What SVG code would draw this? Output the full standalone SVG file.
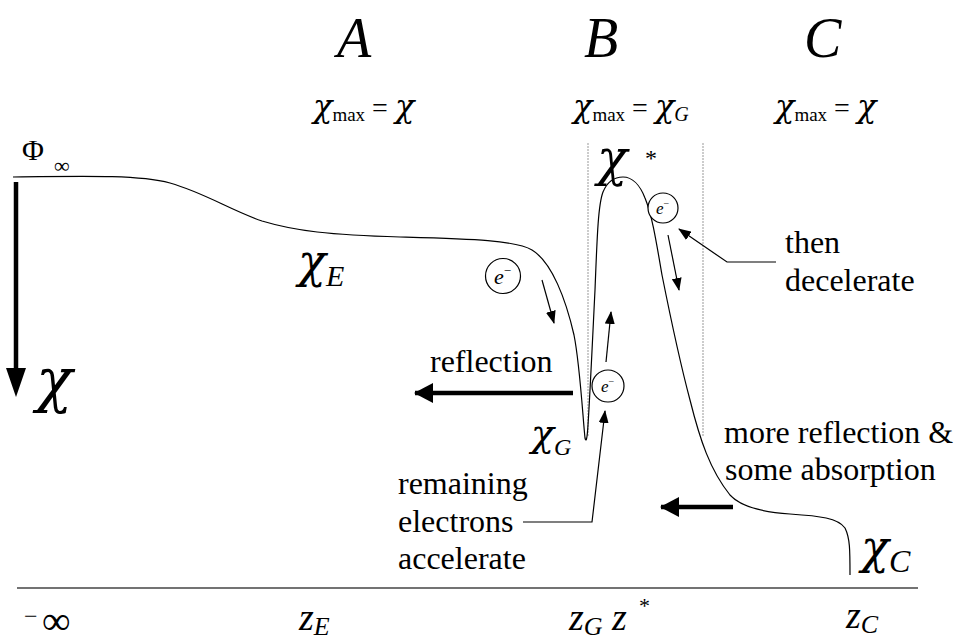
<svg xmlns="http://www.w3.org/2000/svg" width="958" height="644" viewBox="0 0 958 644">
<defs>
<marker id="ah" markerUnits="userSpaceOnUse" markerWidth="14" markerHeight="10" refX="12" refY="5" orient="auto"><path d="M0,0 L13,5 L0,10 z" fill="#000"/></marker>
<marker id="big" markerUnits="userSpaceOnUse" markerWidth="20" markerHeight="20" refX="18" refY="10" orient="auto"><path d="M0,0 L19,10 L0,20 z" fill="#000"/></marker>
</defs>
<style>
text{font-family:"Liberation Serif","Times New Roman",serif;fill:#000}
.i{font-style:italic}
.chi{font-family:"DejaVu Serif",serif;font-style:italic}
.lbl{font-size:32px}
.thin{fill:none;stroke:#000;stroke-width:1.2}
.thick{fill:none;stroke:#000;stroke-width:4.5}
.dot{fill:none;stroke:#999;stroke-width:1;stroke-dasharray:2,1}
.circ{fill:#fff;stroke:#000;stroke-width:1.2}
</style>
<rect width="958" height="644" fill="#fff"/>

<g id="guides">
<line class="dot" x1="588" y1="143" x2="588" y2="437"/>
<line class="dot" x1="703" y1="143" x2="703" y2="437"/>
<line x1="17" y1="588" x2="918" y2="588" stroke="#444" stroke-width="1.5"/>
</g>

<g id="potential">
<path class="thin" d="M13,177 C90,176 140,175 170,183 C205,193 230,210 262,221 C295,231 330,235 400,237 C470,239 515,240 532,250 C552,262 566,300 574,335 C580,365 583,420 585,438 C586,442 587,441 588,425 C590,395 593,330 595,290 C597,240 598,205 603,192 C608,180 615,177 623,177 C632,177 640,185 645,198 C652,215 656,240 662,275 C670,315 682,370 690,400 C700,440 710,470 730,495 C740,506 760,512 790,514 C820,516 838,518 845,528 C850,538 850,550 850,575"/>
</g>

<g id="connectors">
<line class="thick" x1="16" y1="182" x2="16" y2="372"/>
<path d="M6,368 L26,368 L16,397 z" fill="#000"/>
<line class="thin" x1="542" y1="280" x2="554" y2="323" marker-end="url(#ah)"/>
<line class="thin" x1="606" y1="362" x2="611" y2="312" marker-end="url(#ah)"/>
<polyline class="thin" points="523,522 592,522 605,411" marker-end="url(#ah)"/>
<line class="thin" x1="668" y1="235" x2="679" y2="290" marker-end="url(#ah)"/>
<polyline class="thin" points="776,262 727,262 679,229" marker-end="url(#ah)"/>
<line class="thick" x1="573" y1="393" x2="415" y2="393" marker-end="url(#big)"/>
<line class="thick" x1="733" y1="507" x2="661" y2="507" marker-end="url(#big)"/>
</g>

<g id="electron1">
<circle class="circ" cx="503" cy="276" r="17.5"/>
<text x="494" y="284" class="i" font-size="22">e<tspan font-size="13" dy="-9" font-style="normal">−</tspan></text>
</g>
<g id="electron2">
<circle class="circ" cx="663" cy="208" r="15"/>
<text x="656" y="214" class="i" font-size="17">e<tspan font-size="10" dy="-7" font-style="normal">−</tspan></text>
</g>
<g id="electron3">
<circle class="circ" cx="608" cy="386" r="16"/>
<text x="601" y="392" class="i" font-size="17">e<tspan font-size="10" dy="-7" font-style="normal">−</tspan></text>
</g>

<g id="labels">
<text x="22" y="160" font-size="30">Φ</text>
<text x="54" y="173" font-size="22">∞</text>
<text x="36" y="401" class="chi" font-size="60">χ</text>
<text x="337" y="57" class="i" font-size="56">A</text>
<text x="584" y="57" class="i" font-size="56">B</text>
<text x="804" y="57" class="i" font-size="56">C</text>
<text x="313" y="117" font-size="32"><tspan class="chi">χ</tspan><tspan font-size="19" dy="4">max</tspan><tspan dy="-4" font-size="28"> = </tspan><tspan class="chi">χ</tspan></text>
<text x="573" y="117" font-size="32"><tspan class="chi">χ</tspan><tspan font-size="19" dy="4">max</tspan><tspan dy="-4" font-size="28"> = </tspan><tspan class="chi">χ</tspan><tspan class="i" font-size="20" dy="4">G</tspan></text>
<text x="775" y="117" font-size="32"><tspan class="chi">χ</tspan><tspan font-size="19" dy="4">max</tspan><tspan dy="-4" font-size="28"> = </tspan><tspan class="chi">χ</tspan></text>
<text x="597" y="175" class="chi" font-size="50">χ</text>
<text x="645" y="166" font-size="24">*</text>
<text x="298" y="277" class="chi" font-size="46">χ<tspan font-size="30" dy="9" font-family="Liberation Serif">E</tspan></text>
<text x="531" y="446" class="chi" font-size="38">χ<tspan font-size="24" dy="9" font-family="Liberation Serif">G</tspan></text>
<text x="861" y="563" class="chi" font-size="46">χ<tspan font-size="32" dy="9" font-family="Liberation Serif">C</tspan></text>
<text x="430" y="372" class="lbl">reflection</text>
<text x="785" y="253" class="lbl">then</text>
<text x="785" y="291" class="lbl">decelerate</text>
<text x="724" y="443" class="lbl">more reflection &amp;</text>
<text x="725" y="480" class="lbl">some absorption</text>
<text x="398" y="494" class="lbl">remaining</text>
<text x="398" y="532" class="lbl">electrons</text>
<text x="398" y="569" class="lbl">accelerate</text>
<text x="24" y="624" font-size="24">−</text>
<text x="42" y="634" font-size="40">∞</text>
<text x="299" y="630" class="i" font-size="38">z<tspan font-size="26" dy="5">E</tspan></text>
<text x="569" y="630" class="i" font-size="38">z<tspan font-size="26" dy="5">G</tspan></text>
<text x="612" y="630" class="i" font-size="38">z</text>
<text x="639" y="613" font-size="22">*</text>
<text x="846" y="628" class="i" font-size="38">z<tspan font-size="26" dy="5">C</tspan></text>
</g>
</svg>
